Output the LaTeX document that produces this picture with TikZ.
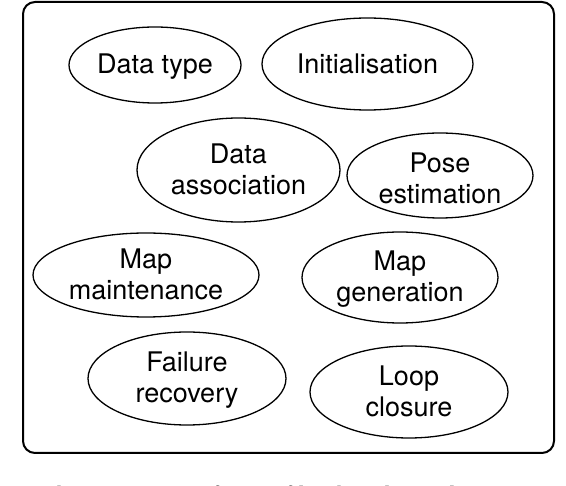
\documentclass[tikz,border=0pt]{standalone}
\usepackage{fontspec}
\setmainfont{TeX Gyre Heros}
\newfontfamily\capfont{Liberation Serif}
\usetikzlibrary{shapes.geometric}
\newcommand\sr{\rule[-3pt]{0pt}{25pt}}
\tikzset{
  comp/.style 2 args={draw, ellipse, line width=1.3pt, inner sep=0pt,
    minimum width=#1pt, minimum height=#2pt},
  txt/.style={align=center, inner sep=0pt,
    font=\fontsize{27}{31}\selectfont},
  frame/.style={draw, line width=2pt, rounded corners=12pt}
}
\begin{document}
\begin{tikzpicture}[x=1pt,y=-1pt]
\useasboundingbox (0,0) rectangle (566,486);
\clip (0,0) rectangle (566,486);
\node[frame, minimum width=531pt, minimum height=451pt, inner sep=0pt] (box) at (288.5,227.5) {};
\node[comp={172}{76}] (dtype) at (155,65) {};
\node[txt] at (dtype) {\sr Data type};
\node[comp={211}{92}] (init) at (367.5,64) {};
\node[txt] at (init) {\sr Initialisation};
\node[comp={203}{104}] (dassoc) at (238.5,170) {};
\node[txt] at (dassoc) {\sr Data\\association\sr};
\node[comp={186}{85}] (pose) at (440,175.5) {};
\node[txt] at ([yshift=-3pt]pose.center) {\sr Pose\\estimation\sr};
\node[comp={226}{84}] (mmaint) at (146,275) {};
\node[txt] at (mmaint) {\sr Map\\maintenance\sr};
\node[comp={196}{91}] (mgen) at (400,277.5) {};
\node[txt] at (mgen) {\sr Map\\generation\sr};
\node[comp={198}{93}] (fail) at (187,378.5) {};
\node[txt] at (fail) {\sr Failure\\recovery\sr};
\node[comp={198}{92}] (loop) at (409,392) {};
\node[txt] at (loop) {\sr Loop\\closure\sr};
\node[anchor=base west, inner sep=0pt, font=\capfont\fontsize{23.4}{28}\selectfont] (cap) at (-1,503) {2. Eight components of a non-filter-based Visual SLAM};
\end{tikzpicture}
\end{document}
